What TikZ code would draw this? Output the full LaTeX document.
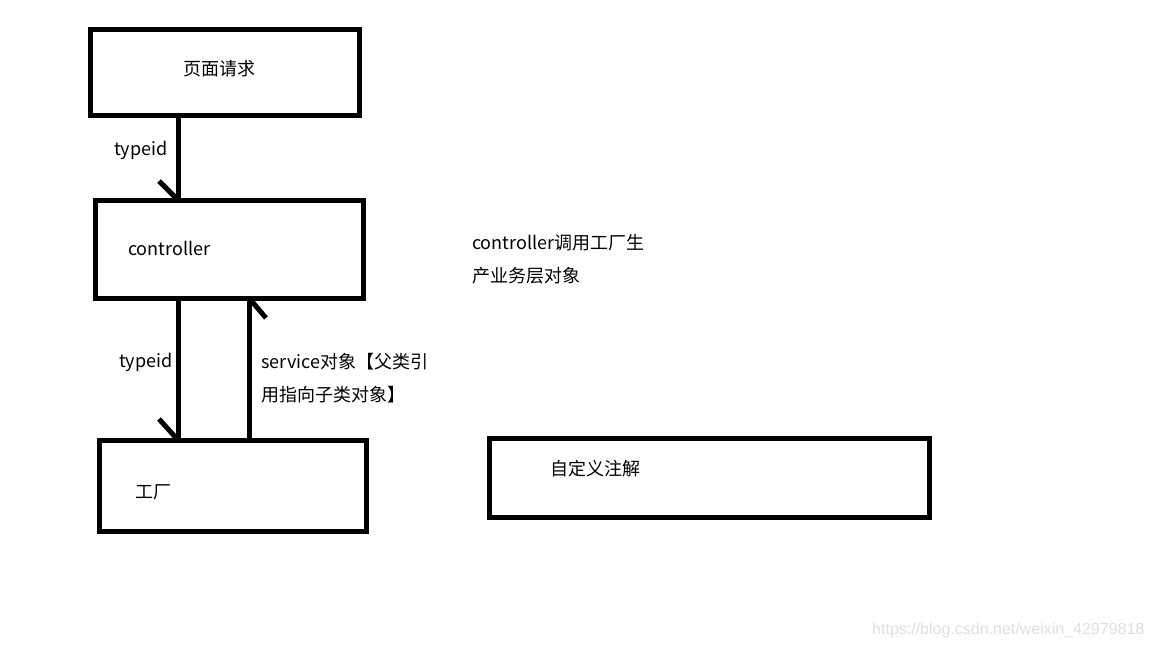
\documentclass[tikz,border=0pt]{standalone}
\usepackage{fontspec}
\setmainfont{Noto Sans CJK SC}
\newfontfamily\wmfont{Liberation Sans}
\begin{document}
\begin{tikzpicture}[x=1pt,y=-1pt,
  box/.style={draw=black,line width=5pt,inner sep=0pt,outer sep=0pt,anchor=north west},
  lbl/.style={anchor=west,inner sep=0pt,font=\fontsize{18}{21}\selectfont},
  conn/.style={line width=5pt},
  barb/.style={line width=5pt}]
\useasboundingbox[fill=white] (0,0) rectangle (1152,648);
% boxes
\node[box,minimum width=269pt,minimum height=86pt] (req) at (90,29) {};
\node[box,minimum width=268pt,minimum height=98pt] (ctl) at (95,200) {};
\node[box,minimum width=267pt,minimum height=91pt] (fac) at (99,440) {};
\node[box,minimum width=440pt,minimum height=79pt] (ann) at (489,438) {};
% texts
\node[lbl] (treq) at (183,69) {页面请求};
\node[lbl] (tctl) at (128,248) {controller};
\node[lbl] (tfac) at (135,492) {工厂};
\node[lbl] (tann) at (550,469) {自定义注解};
\node[lbl] (ty1) at (114,150) {typeid};
\node[lbl] (ty2) at (119,362) {typeid};
\node[lbl] (ts1) at (261,362) {service对象【父类引};
\node[lbl] (ts2) at (261,395) {用指向子类对象】};
\node[lbl] (tc1) at (472,243) {controller调用工厂生};
\node[lbl] (tc2) at (472,276) {产业务层对象};
\node[anchor=west,inner sep=0pt,text=black!12,font=\wmfont\fontsize{16}{18}\selectfont] (wm) at (872,630) {https://blog.csdn.net/weixin\_42979818};
% connectors
\coordinate (xa) at (178,0);
\coordinate (xb) at (249,0);
\draw[conn] (req.south -| xa) -- (ctl.north -| xa) coordinate (h1);
\draw[barb] (h1) -- ++(-19,-19);
\draw[conn] (ctl.south -| xa) -- (fac.north -| xa) coordinate (h2);
\draw[barb] (h2) -- ++(-19,-21);
\draw[conn] (fac.north -| xb) -- (ctl.south -| xb) coordinate (h3);
\draw[barb] (h3) -- ++(17,20);
\end{tikzpicture}
\end{document}
